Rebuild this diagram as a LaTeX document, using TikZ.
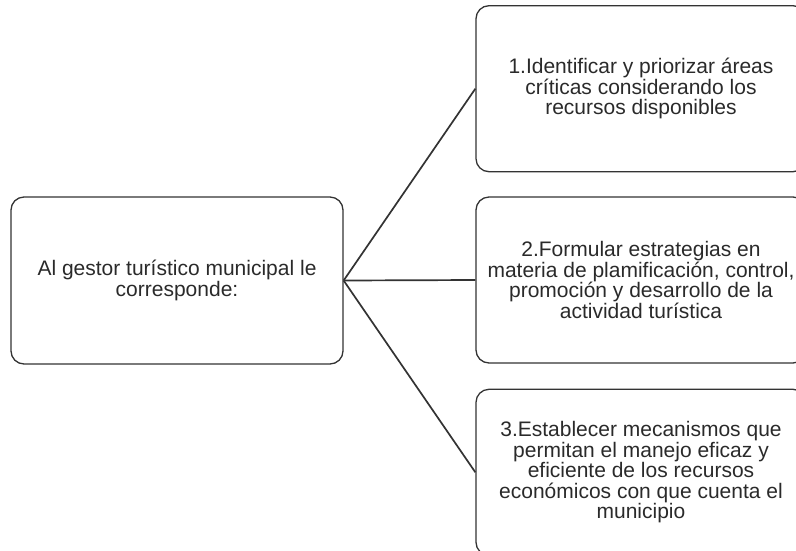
\documentclass[tikz,border=0pt]{standalone}
\usepackage{fontspec}
\setmainfont{Liberation Sans}
\usetikzlibrary{positioning}
\definecolor{linec}{HTML}{333333}
\definecolor{textc}{HTML}{2A2A2A}

\begin{document}
\begin{tikzpicture}[
  x=1pt, y=-1pt,
  caja/.style={draw=linec, line width=1.3pt, rounded corners=13pt,
               align=center, text=textc, inner sep=0pt,
               minimum width=330pt, minimum height=166pt,
               font=\fontsize{21}{20.6}\selectfont},
  rama/.style={draw=linec, line width=1.7pt}
]
\path[use as bounding box, clip] (0,0) rectangle (796,550);
% ---- left: the municipal manager ----
\node[caja, minimum width=332pt, minimum height=167pt] (gestor) at (177,280.5)
  {Al gestor turístico municipal le\\corresponde:};
% ---- right: the three tasks ----
\node[caja] (paso2) at (641,280)
  {2.Formular estrategias en\\materia de plamificación, control,\\
   promoción y desarrollo de la\\actividad turística};
\node[caja, above=24pt of paso2] (paso1)
  {1.Identificar y priorizar áreas\\críticas considerando los\\
   recursos disponibles};
\node[caja, below=25pt of paso2] (paso3)
  {3.Establecer mecanismos que\\permitan el manejo eficaz y\\
   eficiente de los recursos\\económicos con que cuenta el\\municipio};
\foreach \p in {paso1,paso2,paso3}
  \draw[rama] (gestor.east) -- (\p.west);
\end{tikzpicture}
\end{document}
